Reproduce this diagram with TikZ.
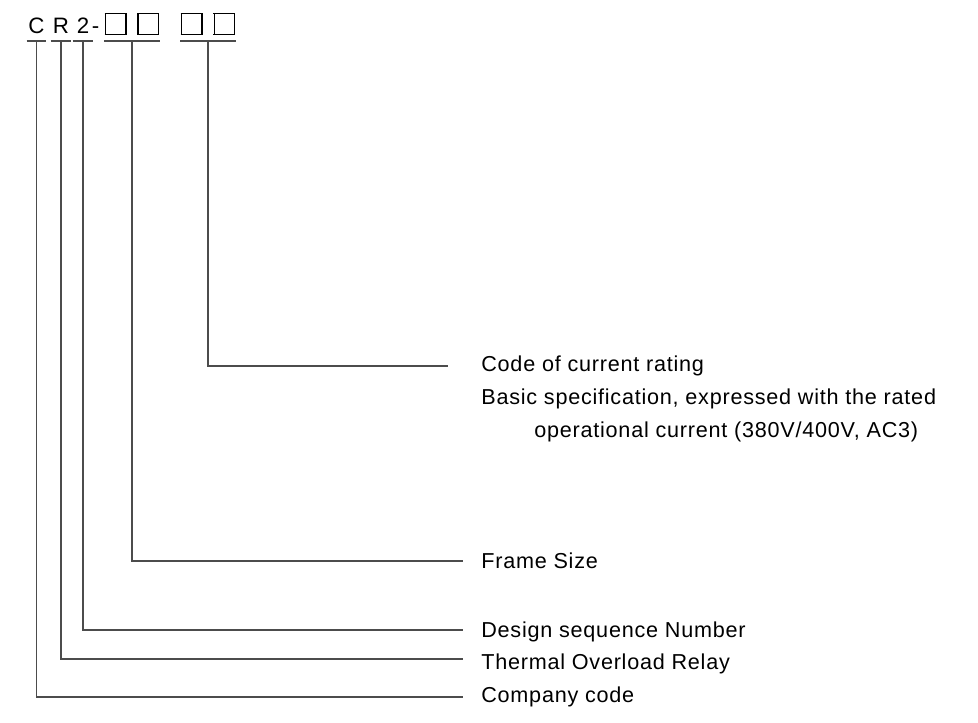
\documentclass[tikz,border=0pt]{standalone}
\usepackage{fontspec}
\setmainfont{Liberation Sans}[LetterSpace=3.5]
\usepackage{tikz}
\usetikzlibrary{positioning, calc}

% placeholder square of the type code
\setlength{\fboxsep}{0pt}
\setlength{\fboxrule}{0.7pt}
\newcommand{\sqbox}{\fbox{\rule{0pt}{0.39cm}\hspace{0.39cm}}}

\begin{document}
\begin{tikzpicture}[x=0.02cm, y=-0.02cm,
    hdr/.style={inner sep=0pt, anchor=south, text height=0.42cm, text depth=0.14cm,
                font=\fontsize{12.7}{15}\selectfont},
    lbl/.style={inner sep=0pt, anchor=base west, font=\fontsize{12.3}{14}\selectfont},
    conn/.style={draw=black!70, line width=0.6pt}]
    \useasboundingbox (0,0) rectangle (978,723);

    % type code
    \node[hdr, minimum width=0.38cm] (c)    at (36.5, 41) {C};
    \node[hdr, minimum width=0.40cm] (r)    at (61, 41)   {R};
    \node[hdr, minimum width=0.40cm] (two)  at (83, 41)   {2};
    \node[hdr]                       (dash) at (95.5, 41) {-};
    \node[hdr, minimum width=1.04cm] (boxa) at (132, 41)  {\sqbox\hspace{0.22cm}\sqbox};
    \node[hdr, minimum width=1.04cm] (boxb) at (208, 41)  {\sqbox\hspace{0.22cm}\sqbox};

    \foreach \n in {c, r, two, boxa, boxb}
        \draw[conn] (\n.south west) -- (\n.south east);

    % explanations
    \node[lbl] (code)    at (481, 371) {Code of current rating};
    \node[lbl] (basic)   at (481, 404) {Basic specification, expressed with the rated};
    \node[lbl] (oper)    at (534, 437) {operational current (380V/400V, AC3)};
    \node[lbl] (frame)   at (481, 568) {Frame Size};
    \node[lbl] (design)  at (481, 637) {Design sequence Number};
    \node[lbl] (thermal) at (481, 669) {Thermal Overload Relay};
    \node[lbl] (company) at (481, 702) {Company code};

    \coordinate (code-end)    at (448, 366);
    \coordinate (frame-end)   at (463, 561);
    \coordinate (design-end)  at (463, 630);
    \coordinate (thermal-end) at (463, 659);
    \coordinate (company-end) at (463, 697);

    \draw[conn] (boxb.south) |- (code-end);
    \draw[conn] (boxa.south) |- (frame-end);
    \draw[conn] (two.south)  |- (design-end);
    \draw[conn] (r.south)    |- (thermal-end);
    \draw[conn] (c.south)    |- (company-end);
\end{tikzpicture}
\end{document}
